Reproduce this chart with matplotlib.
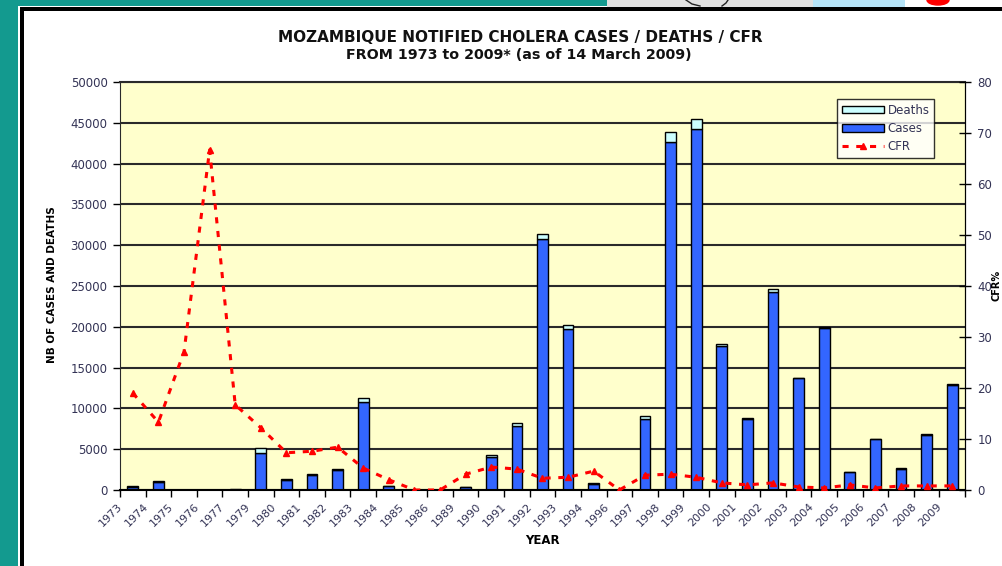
import matplotlib
matplotlib.use('Agg')
import matplotlib.pyplot as plt
import matplotlib.patches as mpatches
from matplotlib.lines import Line2D
from matplotlib.transforms import ScaledTranslation
import numpy as np

years = ['1973', '1974', '1975', '1976', '1977', '1979', '1980', '1981', '1982', '1983',
         '1984', '1985', '1986', '1989', '1990', '1991', '1992', '1993', '1994', '1996',
         '1997', '1998', '1999', '2000', '2001', '2002', '2003', '2004', '2005', '2006',
         '2007', '2008', '2009']
cases = [420, 970, 40, 12, 60, 4550, 1260, 1800, 2400, 10800,
         480, 0, 0, 320, 4100, 7900, 30700, 19700, 790, 0,
         8750, 42600, 44300, 17600, 8700, 24300, 13700, 19900, 2230, 6230,
         2630, 6770, 12850]
deaths = [80, 130, 11, 8, 10, 550, 90, 140, 200, 460,
          10, 0, 0, 10, 190, 330, 720, 500, 30, 0,
          260, 1320, 1150, 250, 90, 340, 80, 80, 22, 25,
          21, 54, 103]
cfr = [19.0, 13.3, 27.1, 66.7, 16.7, 12.2, 7.3, 7.6, 8.4, 4.3,
       2.0, 0.0, 0.0, 3.1, 4.5, 4.1, 2.3, 2.5, 3.7, 0.0,
       2.9, 3.1, 2.5, 1.4, 1.0, 1.4, 0.6, 0.4, 1.0, 0.4,
       0.8, 0.8, 0.8]

W, H = 1002, 566
fig = plt.figure(figsize=(W / 100, H / 100), dpi=100)
fig.patch.set_facecolor('white')

def rect(x0, y0, x1, y1, color):
    # pixel box, origin top-left
    r = mpatches.Rectangle((x0 / W, 1 - y1 / H), (x1 - x0) / W, (y1 - y0) / H,
                           transform=fig.transFigure, color=color, lw=0, zorder=-5)
    fig.add_artist(r)

# screenshot frame around the chart
rect(0, 0, 18, H, '#139A8F')
rect(0, 0, 607, 6, '#139A8F')
rect(607, 0, 813, 6.5, '#E0E0E0')
rect(813, 0, 905, 6.5, '#B6E4F8')
rect(19.5, 7, 24, H, 'black')
rect(19.5, 7.5, W, 11, 'black')
fig.add_artist(mpatches.Ellipse((938 / W, 1 - 0 / H), 22 / W, 10 / H,
                                transform=fig.transFigure, color='red', zorder=-4))
for xs, ys in [([686, 692, 700], [0, 4, 6]), ([722, 726, 728], [6, 3, 0])]:
    fig.add_artist(Line2D([v / W for v in xs], [1 - v / H for v in ys],
                          transform=fig.transFigure, color='#222222', lw=1))

txt = '#333355'
ax = fig.add_axes([120 / W, 1 - 490 / H, (965 - 120) / W, (490 - 82) / H])
ax.set_facecolor('#FFFFCC')
x = np.arange(len(years))
b1 = ax.bar(x, cases, 0.42, color='#3366FF', edgecolor='black', linewidth=1, label='Cases', zorder=2)
b2 = ax.bar(x, deaths, 0.42, bottom=cases, color='#CCFFFF', edgecolor='black', linewidth=1, label='Deaths', zorder=2)
ax.set_xlim(-0.5, len(years) - 0.5)
ax.set_ylim(0, 50000)
ax.set_yticks(range(0, 50001, 5000))
ax.grid(axis='y', color='#2a2a2a', linewidth=1.5)
ax.set_axisbelow(True)
ax.tick_params(axis='y', direction='out', length=5, width=1, pad=4, labelsize=8.5, labelcolor=txt)
ax.set_xticks(x)
ax.set_xticklabels(years, rotation=45, ha='right', va='center', rotation_mode='anchor')
ax.tick_params(axis='x', which='major', length=0, pad=0, labelsize=8, labelcolor=txt)
ax.set_xticks(np.arange(-0.5, len(years), 1), minor=True)
ax.tick_params(axis='x', which='minor', direction='out', length=5, width=1)
for lab in ax.get_xticklabels():
    lab.set_transform(lab.get_transform() + ScaledTranslation(-12 / 100, -15 / 100, fig.dpi_scale_trans))
for s in ['left', 'top']:
    ax.spines[s].set_color('#2a2a2a')
ax.spines['bottom'].set_linewidth(1.5)
ax.spines['top'].set_linewidth(1.5)

ax2 = ax.twinx()
l1, = ax2.plot(x, cfr, color='red', linestyle=(0, (2, 2.5)), linewidth=2.2,
               marker='^', markersize=4.5, label='CFR', zorder=3)
ax2.set_ylim(0, 80)
ax2.set_yticks(range(0, 81, 10))
ax2.tick_params(axis='y', direction='inout', length=8, width=1, pad=5, labelsize=8.5, labelcolor=txt)
for s in ['left', 'top', 'bottom']:
    ax2.spines[s].set_visible(False)

leg = ax2.legend([b2, b1, l1], ['Deaths', 'Cases', 'CFR'], loc='upper left',
                 bbox_to_anchor=(837 / W, 1 - 99 / H), bbox_transform=fig.transFigure,
                 fontsize=8.5, frameon=True, fancybox=False, edgecolor='black',
                 handlelength=3.6, handleheight=0.6, borderpad=0.4, labelspacing=0.45,
                 handletextpad=0.3, borderaxespad=0)
leg.get_frame().set_linewidth(1)
for t in leg.get_texts():
    t.set_color(txt)

fig.text(520 / W, 1 - 38 / H, 'MOZAMBIQUE NOTIFIED CHOLERA CASES / DEATHS / CFR',
         ha='center', va='center', fontsize=11, fontweight='bold', color='#111111')
fig.text(519 / W, 1 - 55 / H, 'FROM 1973 to 2009* (as of 14 March 2009)',
         ha='center', va='center', fontsize=10.3, fontweight='bold', color='#111111')
fig.text(542 / W, 1 - 541 / H, 'YEAR', ha='center', va='center', fontsize=8.5, fontweight='bold')
fig.text(52 / W, 1 - 285 / H, 'NB OF CASES AND DEATHS', ha='center', va='center',
         rotation=90, fontsize=7.5, fontweight='bold')
fig.text(997 / W, 1 - 285 / H, 'CFR%', ha='center', va='center',
         rotation=90, fontsize=7, fontweight='bold')

fig.savefig('out.png', dpi=100)
